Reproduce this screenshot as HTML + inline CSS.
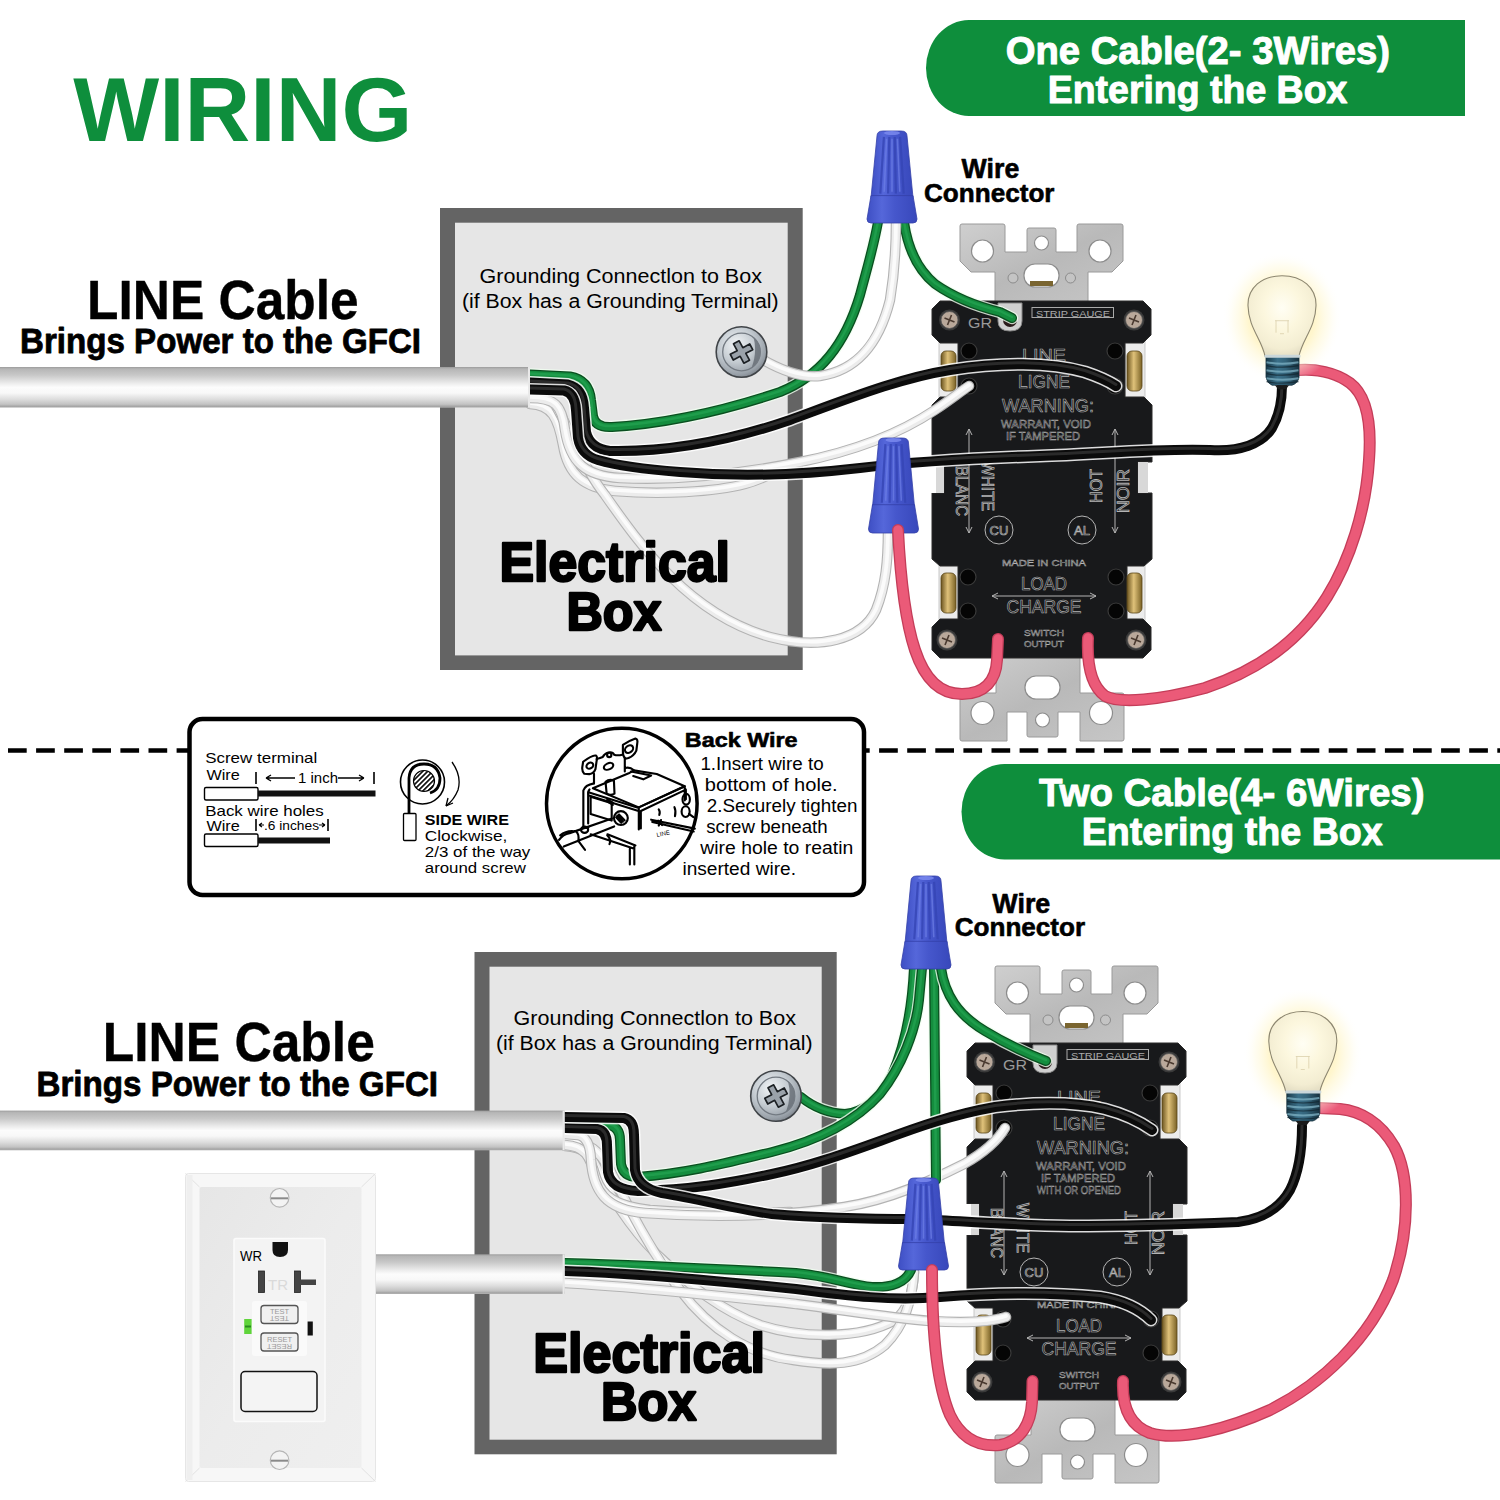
<!DOCTYPE html><html><head><meta charset="utf-8"><title>Wiring</title><style>html,body{margin:0;padding:0;background:#fff;width:1500px;height:1500px;overflow:hidden}svg{display:block}text{font-family:"Liberation Sans",sans-serif}</style></head><body>
<svg width="1500" height="1500" viewBox="0 0 1500 1500">

<defs>
<linearGradient id="cable" x1="0" y1="0" x2="0" y2="1">
 <stop offset="0" stop-color="#9c9c9c"/><stop offset="0.05" stop-color="#b6b6b6"/><stop offset="0.2" stop-color="#c8c8c8"/>
 <stop offset="0.4" stop-color="#ececec"/><stop offset="0.5" stop-color="#fcfcfc"/><stop offset="0.64" stop-color="#f8f8f8"/>
 <stop offset="0.8" stop-color="#dcdcdc"/><stop offset="0.92" stop-color="#c2c2c2"/><stop offset="0.97" stop-color="#a4a4a4"/><stop offset="1" stop-color="#b4b4b4"/>
</linearGradient>
<radialGradient id="glow" cx="0.5" cy="0.5" r="0.5">
 <stop offset="0" stop-color="#fff2b8" stop-opacity="1"/><stop offset="0.55" stop-color="#fff4c4" stop-opacity="0.85"/>
 <stop offset="0.8" stop-color="#fffae0" stop-opacity="0.45"/><stop offset="1" stop-color="#ffffff" stop-opacity="0"/>
</radialGradient>
<radialGradient id="glass" cx="0.5" cy="0.4" r="0.6">
 <stop offset="0" stop-color="#fffef4"/><stop offset="0.45" stop-color="#fcf7de"/><stop offset="0.85" stop-color="#f3edd2"/><stop offset="1" stop-color="#e6e0c6"/>
</radialGradient>
<linearGradient id="base" x1="0" y1="0" x2="1" y2="0">
 <stop offset="0" stop-color="#1a3a4a"/><stop offset="0.35" stop-color="#3b7089"/><stop offset="0.6" stop-color="#33637a"/><stop offset="1" stop-color="#173240"/>
</linearGradient>
<radialGradient id="screw" cx="0.4" cy="0.35" r="0.7">
 <stop offset="0" stop-color="#f2f5f7"/><stop offset="0.5" stop-color="#c4cbd1"/><stop offset="0.85" stop-color="#98a0a8"/><stop offset="1" stop-color="#7a8088"/>
</radialGradient>
<linearGradient id="metal" x1="0" y1="0" x2="1" y2="1">
 <stop offset="0" stop-color="#cfcfcf"/><stop offset="0.5" stop-color="#b9b9b9"/><stop offset="1" stop-color="#c6c6c6"/>
</linearGradient>
<linearGradient id="brass" x1="0" y1="0" x2="1" y2="0">
 <stop offset="0" stop-color="#6b5420"/><stop offset="0.45" stop-color="#e0c27a"/><stop offset="1" stop-color="#7a6226"/>
</linearGradient>
<linearGradient id="conn" x1="0" y1="0" x2="1" y2="0">
 <stop offset="0" stop-color="#3e4fc4"/><stop offset="0.3" stop-color="#5567da"/><stop offset="0.55" stop-color="#4657cc"/><stop offset="1" stop-color="#3848bb"/>
</linearGradient>
<linearGradient id="plate" x1="0" y1="0" x2="1" y2="0">
 <stop offset="0" stop-color="#e4e4e4"/><stop offset="0.12" stop-color="#f6f6f6"/><stop offset="0.88" stop-color="#f6f6f6"/><stop offset="1" stop-color="#dcdcdc"/>
</linearGradient>
<linearGradient id="plateface" x1="0" y1="0" x2="1" y2="1">
 <stop offset="0" stop-color="#e6e6e6"/><stop offset="0.5" stop-color="#ececec"/><stop offset="1" stop-color="#efefef"/>
</linearGradient>
</defs>

<rect width="1500" height="1500" fill="#fff"/>
<text x="73.30" y="141.4" font-size="90.5" font-weight="bold" fill="#0e8e3c" textLength="338.95" lengthAdjust="spacingAndGlyphs">WIRING</text>
<path d="M969 20 L1465 20 L1465 116 L969 116 A43 48.0 0 0 1 969 20 Z" fill="#0e8e3c"/>
<text x="1005.73" y="63.7" font-size="39.5" font-weight="bold" fill="#fff" stroke="#fff" stroke-width="1" stroke-linejoin="round" textLength="384.19" lengthAdjust="spacingAndGlyphs">One Cable(2- 3Wires)</text>
<text x="1047.74" y="102.6" font-size="38.3" font-weight="bold" fill="#fff" stroke="#fff" stroke-width="1" stroke-linejoin="round" textLength="299.65" lengthAdjust="spacingAndGlyphs">Entering the Box</text>
<path d="M1004.5 764 L1500 764 L1500 859.5 L1004.5 859.5 A43 47.75 0 0 1 1004.5 764 Z" fill="#0e8e3c"/>
<text x="1038.90" y="806.4" font-size="39.5" font-weight="bold" fill="#fff" stroke="#fff" stroke-width="1" stroke-linejoin="round" textLength="385.66" lengthAdjust="spacingAndGlyphs">Two Cable(4- 6Wires)</text>
<text x="1081.73" y="844.5" font-size="38.3" font-weight="bold" fill="#fff" stroke="#fff" stroke-width="1" stroke-linejoin="round" textLength="301.06" lengthAdjust="spacingAndGlyphs">Entering the Box</text>
<rect x="440" y="208" width="362.70000000000005" height="462" fill="#646464"/>
<rect x="455" y="222.7" width="332.70000000000005" height="432.7" fill="#e6e6e6"/>
<rect x="474.5" y="952" width="362.20000000000005" height="502.29999999999995" fill="#646464"/>
<rect x="489.5" y="966.7" width="332.20000000000005" height="472.99999999999994" fill="#e6e6e6"/>
<text x="479.62" y="282.7" font-size="20" fill="#000" textLength="282.31" lengthAdjust="spacingAndGlyphs">Grounding Connectlon to Box</text>
<text x="461.94" y="307.5" font-size="20" fill="#000" textLength="316.66" lengthAdjust="spacingAndGlyphs">(if Box has a Grounding Terminal)</text>
<text x="513.62" y="1025.2" font-size="20" fill="#000" textLength="282.31" lengthAdjust="spacingAndGlyphs">Grounding Connectlon to Box</text>
<text x="495.94" y="1050.0" font-size="20" fill="#000" textLength="316.66" lengthAdjust="spacingAndGlyphs">(if Box has a Grounding Terminal)</text>
<text x="87.02" y="318.7" font-size="55.5" font-weight="bold" fill="#000" stroke="#000" stroke-width="0.4" stroke-linejoin="round" textLength="271.62" lengthAdjust="spacingAndGlyphs">LINE Cable</text>
<text x="20.08" y="353.2" font-size="34.5" font-weight="bold" fill="#000" stroke="#000" stroke-width="0.8" stroke-linejoin="round" textLength="400.90" lengthAdjust="spacingAndGlyphs">Brings Power to the GFCI</text>
<text x="102.81" y="1061.1" font-size="55.5" font-weight="bold" fill="#000" stroke="#000" stroke-width="0.4" stroke-linejoin="round" textLength="272.03" lengthAdjust="spacingAndGlyphs">LINE Cable</text>
<text x="36.48" y="1095.7" font-size="34.5" font-weight="bold" fill="#000" stroke="#000" stroke-width="0.8" stroke-linejoin="round" textLength="401.61" lengthAdjust="spacingAndGlyphs">Brings Power to the GFCI</text>
<text x="961.60" y="177.6" font-size="27" font-weight="bold" fill="#000" stroke="#000" stroke-width="0.6" stroke-linejoin="round" textLength="57.68" lengthAdjust="spacingAndGlyphs">Wire</text>
<text x="924.02" y="201.6" font-size="26.5" font-weight="bold" fill="#000" stroke="#000" stroke-width="0.6" stroke-linejoin="round" textLength="130.49" lengthAdjust="spacingAndGlyphs">Connector</text>
<text x="992.30" y="912.5" font-size="27" font-weight="bold" fill="#000" stroke="#000" stroke-width="0.6" stroke-linejoin="round" textLength="57.98" lengthAdjust="spacingAndGlyphs">Wire</text>
<text x="954.72" y="936" font-size="26.5" font-weight="bold" fill="#000" stroke="#000" stroke-width="0.6" stroke-linejoin="round" textLength="130.39" lengthAdjust="spacingAndGlyphs">Connector</text>
<g transform="translate(932,301)"><path d="M30 -77 L71 -77 Q73 -77 73 -75 L73 -49 L95 -49 L95 -71 Q95 -73 97 -73 L122 -73 Q124 -73 124 -71 L124 -49 L145 -49 L145 -75 Q145 -77 147 -77 L189 -77 Q191 -77 191 -75 L191 -40 L180 -29 L156 -29 L156 2 L63 2 L63 -29 L39 -29 L28 -40 L28 -75 Q28 -77 30 -77 Z" fill="url(#metal)" stroke="#9a9a9a" stroke-width="1"/><circle cx="50.5" cy="-50" r="11" fill="#fff" stroke="#8c8c8c" stroke-width="1.2"/><circle cx="168" cy="-50" r="11" fill="#fff" stroke="#8c8c8c" stroke-width="1.2"/><circle cx="109.5" cy="-58" r="7" fill="#fff" stroke="#8c8c8c" stroke-width="1.2"/><rect x="92" y="-37" width="35" height="23" rx="11" fill="#fff" stroke="#8c8c8c" stroke-width="1.2"/><rect x="98" y="-20" width="23" height="5" fill="#7a6530"/><circle cx="81" cy="-23" r="5" fill="#c4c4c4" stroke="#8c8c8c" stroke-width="1"/><circle cx="138.5" cy="-23" r="5" fill="#c4c4c4" stroke="#8c8c8c" stroke-width="1"/><path d="M64 354 L148 354 L148 392 L190 392 Q192 392 192 394 L192 438 Q192 440 190 440 L148 440 L148 411 L126 411 L126 434 Q126 436 124 436 L97 436 Q95 436 95 434 L95 411 L75 411 L75 440 L30 440 Q28 440 28 438 L28 394 Q28 392 30 392 L64 392 Z" fill="url(#metal)" stroke="#9a9a9a" stroke-width="1"/><circle cx="50.5" cy="412" r="11.5" fill="#fff" stroke="#8c8c8c" stroke-width="1.2"/><circle cx="169" cy="412" r="11.5" fill="#fff" stroke="#8c8c8c" stroke-width="1.2"/><circle cx="110.5" cy="419" r="7" fill="#fff" stroke="#8c8c8c" stroke-width="1.2"/><rect x="93" y="375" width="35" height="23" rx="11" fill="#fff" stroke="#8c8c8c" stroke-width="1.2"/><rect x="7" y="40" width="20" height="58" fill="#ececec" stroke="#bdbdbd" stroke-width="0.8"/><rect x="193" y="40" width="20" height="58" fill="#ececec" stroke="#bdbdbd" stroke-width="0.8"/><rect x="7" y="263" width="20" height="58" fill="#ececec" stroke="#bdbdbd" stroke-width="0.8"/><rect x="193" y="263" width="20" height="58" fill="#ececec" stroke="#bdbdbd" stroke-width="0.8"/><path d="M8 0 L211 0 L219 8 L219 34 L211 42 L193 42 L193 96 L212 96 L220 104 L220 161 L206 161 L206 192 L220 192 L220 258 L212 265 L195 265 L195 318 L211 318 L219 326 L219 349 L211 357 L8 357 L0 349 L0 326 L8 318 L26 318 L26 265 L8 265 L0 258 L0 192 L12 192 L12 161 L0 161 L0 104 L8 96 L26 96 L26 42 L8 42 L0 34 L0 8 Z" fill="#18191b" stroke="#2a2a2a" stroke-width="1"/><rect x="4" y="161" width="8" height="31" fill="#d8d8d8"/><rect x="206" y="161" width="10" height="31" fill="#d8d8d8"/><rect x="0" y="161" width="4" height="31" fill="#fff"/><rect x="9" y="50" width="15" height="40" rx="5" fill="url(#brass)" stroke="#5a4618" stroke-width="0.8"/><rect x="195" y="50" width="15" height="40" rx="5" fill="url(#brass)" stroke="#5a4618" stroke-width="0.8"/><rect x="9" y="272" width="15" height="40" rx="5" fill="url(#brass)" stroke="#5a4618" stroke-width="0.8"/><rect x="195" y="272" width="15" height="40" rx="5" fill="url(#brass)" stroke="#5a4618" stroke-width="0.8"/><circle cx="17.5" cy="19" r="10.5" fill="#3a3a3a"/><circle cx="17.5" cy="19" r="8.5" fill="#b9a89a" stroke="#555" stroke-width="0.8"/><path d="M12.5 17 L22.5 21 M15.5 24 L19.5 14" stroke="#4a3a30" stroke-width="1.6"/><circle cx="202" cy="19" r="10.5" fill="#3a3a3a"/><circle cx="202" cy="19" r="8.5" fill="#b9a89a" stroke="#555" stroke-width="0.8"/><path d="M197 17 L207 21 M200 24 L204 14" stroke="#4a3a30" stroke-width="1.6"/><circle cx="15" cy="339" r="10.5" fill="#3a3a3a"/><circle cx="15" cy="339" r="8.5" fill="#b9a89a" stroke="#555" stroke-width="0.8"/><path d="M10 337 L20 341 M13 344 L17 334" stroke="#4a3a30" stroke-width="1.6"/><circle cx="204" cy="339" r="10.5" fill="#3a3a3a"/><circle cx="204" cy="339" r="8.5" fill="#b9a89a" stroke="#555" stroke-width="0.8"/><path d="M199 337 L209 341 M202 344 L206 334" stroke="#4a3a30" stroke-width="1.6"/><circle cx="37" cy="50" r="8" fill="#050505" stroke="#3a3a3a" stroke-width="1.2"/><circle cx="37" cy="85" r="8" fill="#050505" stroke="#3a3a3a" stroke-width="1.2"/><circle cx="183" cy="50" r="8" fill="#050505" stroke="#3a3a3a" stroke-width="1.2"/><circle cx="183" cy="85" r="8" fill="#050505" stroke="#3a3a3a" stroke-width="1.2"/><circle cx="36" cy="276" r="8" fill="#050505" stroke="#3a3a3a" stroke-width="1.2"/><circle cx="36" cy="310" r="8" fill="#050505" stroke="#3a3a3a" stroke-width="1.2"/><circle cx="184" cy="276" r="8" fill="#050505" stroke="#3a3a3a" stroke-width="1.2"/><circle cx="184" cy="310" r="8" fill="#050505" stroke="#3a3a3a" stroke-width="1.2"/><path d="M66 2 L90 2 L90 20 Q90 30 78 30 Q66 30 66 20 Z" fill="#d0d0d0" stroke="#888" stroke-width="1"/><circle cx="78" cy="19" r="7" fill="#2a1a1a"/><text x="36" y="27" font-size="15" fill="#9a9a9a" textLength="24" lengthAdjust="spacingAndGlyphs">GR</text><rect x="100" y="6.5" width="81.5" height="10" fill="none" stroke="#aaa" stroke-width="1"/><text x="104" y="15.5" font-size="9" fill="#aaa" textLength="74" lengthAdjust="spacingAndGlyphs">STRIP GAUGE</text><text x="112" y="59.5" font-size="17" fill="none" stroke="#b4b4b4" stroke-width="0.6" text-anchor="middle" textLength="44" lengthAdjust="spacingAndGlyphs">LINE</text><text x="112" y="86.5" font-size="18" fill="none" stroke="#b4b4b4" stroke-width="0.6" text-anchor="middle" textLength="52" lengthAdjust="spacingAndGlyphs">LIGNE</text><text x="116" y="110.5" font-size="18" fill="none" stroke="#b4b4b4" stroke-width="0.6" text-anchor="middle" textLength="92" lengthAdjust="spacingAndGlyphs">WARNING:</text><text x="114" y="127" font-size="10.5" fill="none" stroke="#b4b4b4" stroke-width="0.45" text-anchor="middle" textLength="90" lengthAdjust="spacingAndGlyphs">WARRANT, VOID</text><text x="111" y="139" font-size="10.5" fill="none" stroke="#b4b4b4" stroke-width="0.45" text-anchor="middle" textLength="74" lengthAdjust="spacingAndGlyphs">IF TAMPERED</text><text x="112" y="264.7" font-size="9" fill="none" stroke="#b4b4b4" stroke-width="0.45" text-anchor="middle" textLength="84" lengthAdjust="spacingAndGlyphs">MADE IN CHINA</text><text x="112" y="289" font-size="18" fill="none" stroke="#b4b4b4" stroke-width="0.6" text-anchor="middle" textLength="46" lengthAdjust="spacingAndGlyphs">LOAD</text><text x="112" y="311.8" font-size="18" fill="none" stroke="#b4b4b4" stroke-width="0.6" text-anchor="middle" textLength="75" lengthAdjust="spacingAndGlyphs">CHARGE</text><text x="112" y="335" font-size="9" fill="none" stroke="#b4b4b4" stroke-width="0.45" text-anchor="middle" textLength="40" lengthAdjust="spacingAndGlyphs">SWITCH</text><text x="112" y="346" font-size="9" fill="none" stroke="#b4b4b4" stroke-width="0.45" text-anchor="middle" textLength="40" lengthAdjust="spacingAndGlyphs">OUTPUT</text><path d="M60 295 H164 M60 295 l6 -3 M60 295 l6 3 M164 295 l-6 -3 M164 295 l-6 3" stroke="#b4b4b4" stroke-width="1" fill="none"/><path d="M37 128 V232 M34 134 l3 -6 l3 6 M34 226 l3 6 l3 -6 M183 128 V232 M180 134 l3 -6 l3 6 M180 226 l3 6 l3 -6" stroke="#b4b4b4" stroke-width="1" fill="none"/><circle cx="67" cy="229" r="14" fill="none" stroke="#b4b4b4" stroke-width="1"/><circle cx="150" cy="229" r="14" fill="none" stroke="#b4b4b4" stroke-width="1"/><text x="67" y="234" font-size="13" fill="none" stroke="#b4b4b4" stroke-width="0.7" text-anchor="middle">CU</text><text x="150" y="234" font-size="13" fill="none" stroke="#b4b4b4" stroke-width="0.7" text-anchor="middle">AL</text><text x="0" y="0" font-size="16" fill="none" stroke="#b4b4b4" stroke-width="0.8" text-anchor="middle" textLength="50" lengthAdjust="spacingAndGlyphs" transform="translate(50,185) rotate(90)">WHITE</text><text x="0" y="0" font-size="16" fill="none" stroke="#b4b4b4" stroke-width="0.8" text-anchor="middle" textLength="50" lengthAdjust="spacingAndGlyphs" transform="translate(24,190) rotate(90)">BLANC</text><text x="0" y="0" font-size="16" fill="none" stroke="#b4b4b4" stroke-width="0.8" text-anchor="middle" textLength="34" lengthAdjust="spacingAndGlyphs" transform="translate(170,185) rotate(-90)">HOT</text><text x="0" y="0" font-size="16" fill="none" stroke="#b4b4b4" stroke-width="0.8" text-anchor="middle" textLength="44" lengthAdjust="spacingAndGlyphs" transform="translate(197,190) rotate(-90)">NOIR</text></g>
<g transform="translate(967,1043)"><path d="M30 -77 L71 -77 Q73 -77 73 -75 L73 -49 L95 -49 L95 -71 Q95 -73 97 -73 L122 -73 Q124 -73 124 -71 L124 -49 L145 -49 L145 -75 Q145 -77 147 -77 L189 -77 Q191 -77 191 -75 L191 -40 L180 -29 L156 -29 L156 2 L63 2 L63 -29 L39 -29 L28 -40 L28 -75 Q28 -77 30 -77 Z" fill="url(#metal)" stroke="#9a9a9a" stroke-width="1"/><circle cx="50.5" cy="-50" r="11" fill="#fff" stroke="#8c8c8c" stroke-width="1.2"/><circle cx="168" cy="-50" r="11" fill="#fff" stroke="#8c8c8c" stroke-width="1.2"/><circle cx="109.5" cy="-58" r="7" fill="#fff" stroke="#8c8c8c" stroke-width="1.2"/><rect x="92" y="-37" width="35" height="23" rx="11" fill="#fff" stroke="#8c8c8c" stroke-width="1.2"/><rect x="98" y="-20" width="23" height="5" fill="#7a6530"/><circle cx="81" cy="-23" r="5" fill="#c4c4c4" stroke="#8c8c8c" stroke-width="1"/><circle cx="138.5" cy="-23" r="5" fill="#c4c4c4" stroke="#8c8c8c" stroke-width="1"/><path d="M64 354 L148 354 L148 392 L190 392 Q192 392 192 394 L192 438 Q192 440 190 440 L148 440 L148 411 L126 411 L126 434 Q126 436 124 436 L97 436 Q95 436 95 434 L95 411 L75 411 L75 440 L30 440 Q28 440 28 438 L28 394 Q28 392 30 392 L64 392 Z" fill="url(#metal)" stroke="#9a9a9a" stroke-width="1"/><circle cx="50.5" cy="412" r="11.5" fill="#fff" stroke="#8c8c8c" stroke-width="1.2"/><circle cx="169" cy="412" r="11.5" fill="#fff" stroke="#8c8c8c" stroke-width="1.2"/><circle cx="110.5" cy="419" r="7" fill="#fff" stroke="#8c8c8c" stroke-width="1.2"/><rect x="93" y="375" width="35" height="23" rx="11" fill="#fff" stroke="#8c8c8c" stroke-width="1.2"/><rect x="7" y="40" width="20" height="58" fill="#ececec" stroke="#bdbdbd" stroke-width="0.8"/><rect x="193" y="40" width="20" height="58" fill="#ececec" stroke="#bdbdbd" stroke-width="0.8"/><rect x="7" y="263" width="20" height="58" fill="#ececec" stroke="#bdbdbd" stroke-width="0.8"/><rect x="193" y="263" width="20" height="58" fill="#ececec" stroke="#bdbdbd" stroke-width="0.8"/><path d="M8 0 L211 0 L219 8 L219 34 L211 42 L193 42 L193 96 L212 96 L220 104 L220 161 L206 161 L206 192 L220 192 L220 258 L212 265 L195 265 L195 318 L211 318 L219 326 L219 349 L211 357 L8 357 L0 349 L0 326 L8 318 L26 318 L26 265 L8 265 L0 258 L0 192 L12 192 L12 161 L0 161 L0 104 L8 96 L26 96 L26 42 L8 42 L0 34 L0 8 Z" fill="#18191b" stroke="#2a2a2a" stroke-width="1"/><rect x="4" y="161" width="8" height="31" fill="#d8d8d8"/><rect x="206" y="161" width="10" height="31" fill="#d8d8d8"/><rect x="0" y="161" width="4" height="31" fill="#fff"/><rect x="9" y="50" width="15" height="40" rx="5" fill="url(#brass)" stroke="#5a4618" stroke-width="0.8"/><rect x="195" y="50" width="15" height="40" rx="5" fill="url(#brass)" stroke="#5a4618" stroke-width="0.8"/><rect x="9" y="272" width="15" height="40" rx="5" fill="url(#brass)" stroke="#5a4618" stroke-width="0.8"/><rect x="195" y="272" width="15" height="40" rx="5" fill="url(#brass)" stroke="#5a4618" stroke-width="0.8"/><circle cx="17.5" cy="19" r="10.5" fill="#3a3a3a"/><circle cx="17.5" cy="19" r="8.5" fill="#b9a89a" stroke="#555" stroke-width="0.8"/><path d="M12.5 17 L22.5 21 M15.5 24 L19.5 14" stroke="#4a3a30" stroke-width="1.6"/><circle cx="202" cy="19" r="10.5" fill="#3a3a3a"/><circle cx="202" cy="19" r="8.5" fill="#b9a89a" stroke="#555" stroke-width="0.8"/><path d="M197 17 L207 21 M200 24 L204 14" stroke="#4a3a30" stroke-width="1.6"/><circle cx="15" cy="339" r="10.5" fill="#3a3a3a"/><circle cx="15" cy="339" r="8.5" fill="#b9a89a" stroke="#555" stroke-width="0.8"/><path d="M10 337 L20 341 M13 344 L17 334" stroke="#4a3a30" stroke-width="1.6"/><circle cx="204" cy="339" r="10.5" fill="#3a3a3a"/><circle cx="204" cy="339" r="8.5" fill="#b9a89a" stroke="#555" stroke-width="0.8"/><path d="M199 337 L209 341 M202 344 L206 334" stroke="#4a3a30" stroke-width="1.6"/><circle cx="37" cy="50" r="8" fill="#050505" stroke="#3a3a3a" stroke-width="1.2"/><circle cx="37" cy="85" r="8" fill="#050505" stroke="#3a3a3a" stroke-width="1.2"/><circle cx="183" cy="50" r="8" fill="#050505" stroke="#3a3a3a" stroke-width="1.2"/><circle cx="183" cy="85" r="8" fill="#050505" stroke="#3a3a3a" stroke-width="1.2"/><circle cx="36" cy="276" r="8" fill="#050505" stroke="#3a3a3a" stroke-width="1.2"/><circle cx="36" cy="310" r="8" fill="#050505" stroke="#3a3a3a" stroke-width="1.2"/><circle cx="184" cy="276" r="8" fill="#050505" stroke="#3a3a3a" stroke-width="1.2"/><circle cx="184" cy="310" r="8" fill="#050505" stroke="#3a3a3a" stroke-width="1.2"/><path d="M66 2 L90 2 L90 20 Q90 30 78 30 Q66 30 66 20 Z" fill="#d0d0d0" stroke="#888" stroke-width="1"/><circle cx="78" cy="19" r="7" fill="#2a1a1a"/><text x="36" y="27" font-size="15" fill="#9a9a9a" textLength="24" lengthAdjust="spacingAndGlyphs">GR</text><rect x="100" y="6.5" width="81.5" height="10" fill="none" stroke="#aaa" stroke-width="1"/><text x="104" y="15.5" font-size="9" fill="#aaa" textLength="74" lengthAdjust="spacingAndGlyphs">STRIP GAUGE</text><text x="112" y="59.5" font-size="17" fill="none" stroke="#b4b4b4" stroke-width="0.6" text-anchor="middle" textLength="44" lengthAdjust="spacingAndGlyphs">LINE</text><text x="112" y="86.5" font-size="18" fill="none" stroke="#b4b4b4" stroke-width="0.6" text-anchor="middle" textLength="52" lengthAdjust="spacingAndGlyphs">LIGNE</text><text x="116" y="110.5" font-size="18" fill="none" stroke="#b4b4b4" stroke-width="0.6" text-anchor="middle" textLength="92" lengthAdjust="spacingAndGlyphs">WARNING:</text><text x="114" y="127" font-size="10.5" fill="none" stroke="#b4b4b4" stroke-width="0.45" text-anchor="middle" textLength="90" lengthAdjust="spacingAndGlyphs">WARRANT, VOID</text><text x="111" y="139" font-size="10.5" fill="none" stroke="#b4b4b4" stroke-width="0.45" text-anchor="middle" textLength="74" lengthAdjust="spacingAndGlyphs">IF TAMPERED</text><text x="112" y="151" font-size="10.5" fill="none" stroke="#b4b4b4" stroke-width="0.45" text-anchor="middle" textLength="84" lengthAdjust="spacingAndGlyphs">WITH OR OPENED</text><text x="112" y="264.7" font-size="9" fill="none" stroke="#b4b4b4" stroke-width="0.45" text-anchor="middle" textLength="84" lengthAdjust="spacingAndGlyphs">MADE IN CHINA</text><text x="112" y="289" font-size="18" fill="none" stroke="#b4b4b4" stroke-width="0.6" text-anchor="middle" textLength="46" lengthAdjust="spacingAndGlyphs">LOAD</text><text x="112" y="311.8" font-size="18" fill="none" stroke="#b4b4b4" stroke-width="0.6" text-anchor="middle" textLength="75" lengthAdjust="spacingAndGlyphs">CHARGE</text><text x="112" y="335" font-size="9" fill="none" stroke="#b4b4b4" stroke-width="0.45" text-anchor="middle" textLength="40" lengthAdjust="spacingAndGlyphs">SWITCH</text><text x="112" y="346" font-size="9" fill="none" stroke="#b4b4b4" stroke-width="0.45" text-anchor="middle" textLength="40" lengthAdjust="spacingAndGlyphs">OUTPUT</text><path d="M60 295 H164 M60 295 l6 -3 M60 295 l6 3 M164 295 l-6 -3 M164 295 l-6 3" stroke="#b4b4b4" stroke-width="1" fill="none"/><path d="M37 128 V232 M34 134 l3 -6 l3 6 M34 226 l3 6 l3 -6 M183 128 V232 M180 134 l3 -6 l3 6 M180 226 l3 6 l3 -6" stroke="#b4b4b4" stroke-width="1" fill="none"/><circle cx="67" cy="229" r="14" fill="none" stroke="#b4b4b4" stroke-width="1"/><circle cx="150" cy="229" r="14" fill="none" stroke="#b4b4b4" stroke-width="1"/><text x="67" y="234" font-size="13" fill="none" stroke="#b4b4b4" stroke-width="0.7" text-anchor="middle">CU</text><text x="150" y="234" font-size="13" fill="none" stroke="#b4b4b4" stroke-width="0.7" text-anchor="middle">AL</text><text x="0" y="0" font-size="16" fill="none" stroke="#b4b4b4" stroke-width="0.8" text-anchor="middle" textLength="50" lengthAdjust="spacingAndGlyphs" transform="translate(50,185) rotate(90)">WHITE</text><text x="0" y="0" font-size="16" fill="none" stroke="#b4b4b4" stroke-width="0.8" text-anchor="middle" textLength="50" lengthAdjust="spacingAndGlyphs" transform="translate(24,190) rotate(90)">BLANC</text><text x="0" y="0" font-size="16" fill="none" stroke="#b4b4b4" stroke-width="0.8" text-anchor="middle" textLength="34" lengthAdjust="spacingAndGlyphs" transform="translate(170,185) rotate(-90)">HOT</text><text x="0" y="0" font-size="16" fill="none" stroke="#b4b4b4" stroke-width="0.8" text-anchor="middle" textLength="44" lengthAdjust="spacingAndGlyphs" transform="translate(197,190) rotate(-90)">NOIR</text></g>
<path d="M530 404 C552 405 558 418 563 445 C568 475 584 488 615 491 C660 495 715 492 745 484 C760 480 770 474 780 470" fill="none" stroke="#b3b3b3" stroke-width="10.5" stroke-linecap="round" stroke-linejoin="round"/>
<path d="M530 404 C552 405 558 418 563 445 C568 475 584 488 615 491 C660 495 715 492 745 484 C760 480 770 474 780 470" fill="none" stroke="#ececec" stroke-width="8.3" stroke-linecap="round" stroke-linejoin="round"/>
<path d="M530 404 C552 405 558 418 563 445 C568 475 584 488 615 491 C660 495 715 492 745 484 C760 480 770 474 780 470" fill="none" stroke="#fbfbfb" stroke-width="3.675" stroke-linecap="round" stroke-linejoin="round" transform="translate(0,-1)"/>
<path d="M556 406 C575 440 585 470 605 495 C640 545 690 615 770 637 C820 650 862 640 876 610 C886 585 888 560 888 530" fill="none" stroke="#b3b3b3" stroke-width="10.5" stroke-linecap="round" stroke-linejoin="round"/>
<path d="M556 406 C575 440 585 470 605 495 C640 545 690 615 770 637 C820 650 862 640 876 610 C886 585 888 560 888 530" fill="none" stroke="#ececec" stroke-width="8.3" stroke-linecap="round" stroke-linejoin="round"/>
<path d="M556 406 C575 440 585 470 605 495 C640 545 690 615 770 637 C820 650 862 640 876 610 C886 585 888 560 888 530" fill="none" stroke="#fbfbfb" stroke-width="3.675" stroke-linecap="round" stroke-linejoin="round" transform="translate(0,-1)"/>
<path d="M530 398 C555 398 562 405 565 430 C570 462 585 476 620 478 C680 481 740 474 800 462 C860 450 905 430 935 410 C950 400 960 392 969 386" fill="none" stroke="#b3b3b3" stroke-width="10.5" stroke-linecap="round" stroke-linejoin="round"/>
<path d="M530 398 C555 398 562 405 565 430 C570 462 585 476 620 478 C680 481 740 474 800 462 C860 450 905 430 935 410 C950 400 960 392 969 386" fill="none" stroke="#ececec" stroke-width="8.3" stroke-linecap="round" stroke-linejoin="round"/>
<path d="M530 398 C555 398 562 405 565 430 C570 462 585 476 620 478 C680 481 740 474 800 462 C860 450 905 430 935 410 C950 400 960 392 969 386" fill="none" stroke="#fbfbfb" stroke-width="3.675" stroke-linecap="round" stroke-linejoin="round" transform="translate(0,-1)"/>
<path d="M530 374.5 L570 376.5 Q589 380 591 400 L593 416 Q595 428 612 427 C660 424 720 412 780 392 C820 376 845 345 860 295 C868 265 874 245 878 222" fill="none" stroke="#f0fff0" stroke-opacity="0.8" stroke-width="12.5" stroke-linecap="round" stroke-linejoin="round"/>
<path d="M530 374.5 L570 376.5 Q589 380 591 400 L593 416 Q595 428 612 427 C660 424 720 412 780 392 C820 376 845 345 860 295 C868 265 874 245 878 222" fill="none" stroke="#0a4f20" stroke-width="10" stroke-linecap="round" stroke-linejoin="round"/>
<path d="M530 374.5 L570 376.5 Q589 380 591 400 L593 416 Q595 428 612 427 C660 424 720 412 780 392 C820 376 845 345 860 295 C868 265 874 245 878 222" fill="none" stroke="#148d3e" stroke-width="7.4" stroke-linecap="round" stroke-linejoin="round"/>
<path d="M530 374.5 L570 376.5 Q589 380 591 400 L593 416 Q595 428 612 427 C660 424 720 412 780 392 C820 376 845 345 860 295 C868 265 874 245 878 222" fill="none" stroke="#1f9d4c" stroke-width="2.5" stroke-linecap="round" stroke-linejoin="round" transform="translate(0,-1)"/>
<path d="M904 222 C908 250 918 270 935 284 C955 298 980 307 1000 312 L1012 318" fill="none" stroke="#f0fff0" stroke-opacity="0.8" stroke-width="12.5" stroke-linecap="round" stroke-linejoin="round"/>
<path d="M904 222 C908 250 918 270 935 284 C955 298 980 307 1000 312 L1012 318" fill="none" stroke="#0a4f20" stroke-width="10" stroke-linecap="round" stroke-linejoin="round"/>
<path d="M904 222 C908 250 918 270 935 284 C955 298 980 307 1000 312 L1012 318" fill="none" stroke="#148d3e" stroke-width="7.4" stroke-linecap="round" stroke-linejoin="round"/>
<path d="M904 222 C908 250 918 270 935 284 C955 298 980 307 1000 312 L1012 318" fill="none" stroke="#1f9d4c" stroke-width="2.5" stroke-linecap="round" stroke-linejoin="round" transform="translate(0,-1)"/>
<path d="M760 358 C780 370 800 378 820 376 C860 370 880 340 890 300 C895 270 896 245 896 222" fill="none" stroke="#b3b3b3" stroke-width="10.5" stroke-linecap="round" stroke-linejoin="round"/>
<path d="M760 358 C780 370 800 378 820 376 C860 370 880 340 890 300 C895 270 896 245 896 222" fill="none" stroke="#ececec" stroke-width="8.3" stroke-linecap="round" stroke-linejoin="round"/>
<path d="M760 358 C780 370 800 378 820 376 C860 370 880 340 890 300 C895 270 896 245 896 222" fill="none" stroke="#fbfbfb" stroke-width="3.675" stroke-linecap="round" stroke-linejoin="round" transform="translate(0,-1)"/>
<path d="M530 382.5 L568 384.5 Q583 388 584 408 L586 432 Q590 449 610 451 C660 452 720 444 790 420 C850 398 900 378 950 370 C1000 362 1050 362 1085 372 C1100 377 1110 382 1116 386" fill="none" stroke="#ffffff" stroke-opacity="0.85" stroke-width="13" stroke-linecap="round" stroke-linejoin="round"/>
<path d="M530 382.5 L568 384.5 Q583 388 584 408 L586 432 Q590 449 610 451 C660 452 720 444 790 420 C850 398 900 378 950 370 C1000 362 1050 362 1085 372 C1100 377 1110 382 1116 386" fill="none" stroke="#0b0b0b" stroke-width="10" stroke-linecap="round" stroke-linejoin="round"/>
<path d="M530 382.5 L568 384.5 Q583 388 584 408 L586 432 Q590 449 610 451 C660 452 720 444 790 420 C850 398 900 378 950 370 C1000 362 1050 362 1085 372 C1100 377 1110 382 1116 386" fill="none" stroke="#2a2a2a" stroke-width="3.0" stroke-linecap="round" stroke-linejoin="round" transform="translate(0,-1.5)"/>
<path d="M530 389.5 L564 390.5 Q575 393 576 410 L578 438 Q581 455 598 460 C615 465 640 469 680 472 C740 477 800 475 860 468 C920 461 980 458 1040 456 C1100 454 1160 448 1210 450 C1240 452 1262 444 1272 428 C1280 414 1282 398 1282 386" fill="none" stroke="#ffffff" stroke-opacity="0.85" stroke-width="13" stroke-linecap="round" stroke-linejoin="round"/>
<path d="M530 389.5 L564 390.5 Q575 393 576 410 L578 438 Q581 455 598 460 C615 465 640 469 680 472 C740 477 800 475 860 468 C920 461 980 458 1040 456 C1100 454 1160 448 1210 450 C1240 452 1262 444 1272 428 C1280 414 1282 398 1282 386" fill="none" stroke="#0b0b0b" stroke-width="10" stroke-linecap="round" stroke-linejoin="round"/>
<path d="M530 389.5 L564 390.5 Q575 393 576 410 L578 438 Q581 455 598 460 C615 465 640 469 680 472 C740 477 800 475 860 468 C920 461 980 458 1040 456 C1100 454 1160 448 1210 450 C1240 452 1262 444 1272 428 C1280 414 1282 398 1282 386" fill="none" stroke="#2a2a2a" stroke-width="3.0" stroke-linecap="round" stroke-linejoin="round" transform="translate(0,-1.5)"/>
<path d="M565 1146 C585 1147 592 1156 600 1175 C615 1205 640 1240 665 1262 C690 1285 720 1310 760 1325 C800 1338 860 1340 895 1320 C908 1310 913 1292 914 1272" fill="none" stroke="#b3b3b3" stroke-width="10.5" stroke-linecap="round" stroke-linejoin="round"/>
<path d="M565 1146 C585 1147 592 1156 600 1175 C615 1205 640 1240 665 1262 C690 1285 720 1310 760 1325 C800 1338 860 1340 895 1320 C908 1310 913 1292 914 1272" fill="none" stroke="#ececec" stroke-width="8.3" stroke-linecap="round" stroke-linejoin="round"/>
<path d="M565 1146 C585 1147 592 1156 600 1175 C615 1205 640 1240 665 1262 C690 1285 720 1310 760 1325 C800 1338 860 1340 895 1320 C908 1310 913 1292 914 1272" fill="none" stroke="#fbfbfb" stroke-width="3.675" stroke-linecap="round" stroke-linejoin="round" transform="translate(0,-1)"/>
<path d="M565 1140 C590 1141 600 1152 610 1170 C630 1210 650 1250 680 1290 C710 1330 750 1355 793 1360 C830 1366 860 1366 885 1345 C905 1325 912 1300 914 1272" fill="none" stroke="#b3b3b3" stroke-width="10.5" stroke-linecap="round" stroke-linejoin="round"/>
<path d="M565 1140 C590 1141 600 1152 610 1170 C630 1210 650 1250 680 1290 C710 1330 750 1355 793 1360 C830 1366 860 1366 885 1345 C905 1325 912 1300 914 1272" fill="none" stroke="#ececec" stroke-width="8.3" stroke-linecap="round" stroke-linejoin="round"/>
<path d="M565 1140 C590 1141 600 1152 610 1170 C630 1210 650 1250 680 1290 C710 1330 750 1355 793 1360 C830 1366 860 1366 885 1345 C905 1325 912 1300 914 1272" fill="none" stroke="#fbfbfb" stroke-width="3.675" stroke-linecap="round" stroke-linejoin="round" transform="translate(0,-1)"/>
<path d="M565 1145 C585 1146 590 1156 596 1178 C602 1196 615 1206 650 1210 C700 1214 740 1214 790 1212" fill="none" stroke="#b3b3b3" stroke-width="10.5" stroke-linecap="round" stroke-linejoin="round"/>
<path d="M565 1145 C585 1146 590 1156 596 1178 C602 1196 615 1206 650 1210 C700 1214 740 1214 790 1212" fill="none" stroke="#ececec" stroke-width="8.3" stroke-linecap="round" stroke-linejoin="round"/>
<path d="M565 1145 C585 1146 590 1156 596 1178 C602 1196 615 1206 650 1210 C700 1214 740 1214 790 1212" fill="none" stroke="#fbfbfb" stroke-width="3.675" stroke-linecap="round" stroke-linejoin="round" transform="translate(0,-1)"/>
<path d="M565 1134 L578 1135 Q590 1137 591 1160 C593 1190 605 1210 645 1213 C700 1217 770 1218 844 1207 C890 1200 930 1181 964 1164 C985 1152 998 1140 1005 1128" fill="none" stroke="#b3b3b3" stroke-width="10.5" stroke-linecap="round" stroke-linejoin="round"/>
<path d="M565 1134 L578 1135 Q590 1137 591 1160 C593 1190 605 1210 645 1213 C700 1217 770 1218 844 1207 C890 1200 930 1181 964 1164 C985 1152 998 1140 1005 1128" fill="none" stroke="#ececec" stroke-width="8.3" stroke-linecap="round" stroke-linejoin="round"/>
<path d="M565 1134 L578 1135 Q590 1137 591 1160 C593 1190 605 1210 645 1213 C700 1217 770 1218 844 1207 C890 1200 930 1181 964 1164 C985 1152 998 1140 1005 1128" fill="none" stroke="#fbfbfb" stroke-width="3.675" stroke-linecap="round" stroke-linejoin="round" transform="translate(0,-1)"/>
<path d="M565 1283 C640 1287 720 1296 796 1304 C850 1311 892 1318 930 1321 C960 1323 990 1322 1006 1317" fill="none" stroke="#b3b3b3" stroke-width="10.5" stroke-linecap="round" stroke-linejoin="round"/>
<path d="M565 1283 C640 1287 720 1296 796 1304 C850 1311 892 1318 930 1321 C960 1323 990 1322 1006 1317" fill="none" stroke="#ececec" stroke-width="8.3" stroke-linecap="round" stroke-linejoin="round"/>
<path d="M565 1283 C640 1287 720 1296 796 1304 C850 1311 892 1318 930 1321 C960 1323 990 1322 1006 1317" fill="none" stroke="#fbfbfb" stroke-width="3.675" stroke-linecap="round" stroke-linejoin="round" transform="translate(0,-1)"/>
<path d="M801 1097 C812 1106 825 1113 845 1114 C865 1112 880 1098 892 1075 C905 1045 912 1010 914 968" fill="none" stroke="#f0fff0" stroke-opacity="0.8" stroke-width="12.5" stroke-linecap="round" stroke-linejoin="round"/>
<path d="M801 1097 C812 1106 825 1113 845 1114 C865 1112 880 1098 892 1075 C905 1045 912 1010 914 968" fill="none" stroke="#0a4f20" stroke-width="10" stroke-linecap="round" stroke-linejoin="round"/>
<path d="M801 1097 C812 1106 825 1113 845 1114 C865 1112 880 1098 892 1075 C905 1045 912 1010 914 968" fill="none" stroke="#148d3e" stroke-width="7.4" stroke-linecap="round" stroke-linejoin="round"/>
<path d="M801 1097 C812 1106 825 1113 845 1114 C865 1112 880 1098 892 1075 C905 1045 912 1010 914 968" fill="none" stroke="#1f9d4c" stroke-width="2.5" stroke-linecap="round" stroke-linejoin="round" transform="translate(0,-1)"/>
<path d="M565 1123 L609 1125 Q620 1127 620 1140 L621 1164 Q623 1177 638 1177 C690 1173 730 1162 772 1152 C820 1140 856 1121 880 1094 C902 1066 916 1030 919 1000 L922 968" fill="none" stroke="#f0fff0" stroke-opacity="0.8" stroke-width="12.5" stroke-linecap="round" stroke-linejoin="round"/>
<path d="M565 1123 L609 1125 Q620 1127 620 1140 L621 1164 Q623 1177 638 1177 C690 1173 730 1162 772 1152 C820 1140 856 1121 880 1094 C902 1066 916 1030 919 1000 L922 968" fill="none" stroke="#0a4f20" stroke-width="10" stroke-linecap="round" stroke-linejoin="round"/>
<path d="M565 1123 L609 1125 Q620 1127 620 1140 L621 1164 Q623 1177 638 1177 C690 1173 730 1162 772 1152 C820 1140 856 1121 880 1094 C902 1066 916 1030 919 1000 L922 968" fill="none" stroke="#148d3e" stroke-width="7.4" stroke-linecap="round" stroke-linejoin="round"/>
<path d="M565 1123 L609 1125 Q620 1127 620 1140 L621 1164 Q623 1177 638 1177 C690 1173 730 1162 772 1152 C820 1140 856 1121 880 1094 C902 1066 916 1030 919 1000 L922 968" fill="none" stroke="#1f9d4c" stroke-width="2.5" stroke-linecap="round" stroke-linejoin="round" transform="translate(0,-1)"/>
<path d="M934 968 L936 1180" fill="none" stroke="#f0fff0" stroke-opacity="0.8" stroke-width="12.5" stroke-linecap="round" stroke-linejoin="round"/>
<path d="M934 968 L936 1180" fill="none" stroke="#0a4f20" stroke-width="10" stroke-linecap="round" stroke-linejoin="round"/>
<path d="M934 968 L936 1180" fill="none" stroke="#148d3e" stroke-width="7.4" stroke-linecap="round" stroke-linejoin="round"/>
<path d="M934 968 L936 1180" fill="none" stroke="#1f9d4c" stroke-width="2.5" stroke-linecap="round" stroke-linejoin="round" transform="translate(0,-1)"/>
<path d="M941 968 C945 995 958 1015 985 1031 C1008 1045 1028 1054 1046 1061" fill="none" stroke="#f0fff0" stroke-opacity="0.8" stroke-width="12.5" stroke-linecap="round" stroke-linejoin="round"/>
<path d="M941 968 C945 995 958 1015 985 1031 C1008 1045 1028 1054 1046 1061" fill="none" stroke="#0a4f20" stroke-width="10" stroke-linecap="round" stroke-linejoin="round"/>
<path d="M941 968 C945 995 958 1015 985 1031 C1008 1045 1028 1054 1046 1061" fill="none" stroke="#148d3e" stroke-width="7.4" stroke-linecap="round" stroke-linejoin="round"/>
<path d="M941 968 C945 995 958 1015 985 1031 C1008 1045 1028 1054 1046 1061" fill="none" stroke="#1f9d4c" stroke-width="2.5" stroke-linecap="round" stroke-linejoin="round" transform="translate(0,-1)"/>
<path d="M565 1263 C640 1265 720 1269 796 1273 C830 1276 850 1285 872 1287 C892 1288 906 1282 911 1270" fill="none" stroke="#f0fff0" stroke-opacity="0.8" stroke-width="12.5" stroke-linecap="round" stroke-linejoin="round"/>
<path d="M565 1263 C640 1265 720 1269 796 1273 C830 1276 850 1285 872 1287 C892 1288 906 1282 911 1270" fill="none" stroke="#0a4f20" stroke-width="10" stroke-linecap="round" stroke-linejoin="round"/>
<path d="M565 1263 C640 1265 720 1269 796 1273 C830 1276 850 1285 872 1287 C892 1288 906 1282 911 1270" fill="none" stroke="#148d3e" stroke-width="7.4" stroke-linecap="round" stroke-linejoin="round"/>
<path d="M565 1263 C640 1265 720 1269 796 1273 C830 1276 850 1285 872 1287 C892 1288 906 1282 911 1270" fill="none" stroke="#1f9d4c" stroke-width="2.5" stroke-linecap="round" stroke-linejoin="round" transform="translate(0,-1)"/>
<path d="M565 1128 L597 1129 Q607 1131 607 1145 L608 1172 Q611 1190 638 1191 C690 1190 730 1183 772 1174 C810 1166 844 1154 880 1141 C920 1126 955 1114 995 1107 C1035 1102 1075 1102 1105 1109 C1128 1115 1142 1123 1152 1130" fill="none" stroke="#ffffff" stroke-opacity="0.85" stroke-width="13" stroke-linecap="round" stroke-linejoin="round"/>
<path d="M565 1128 L597 1129 Q607 1131 607 1145 L608 1172 Q611 1190 638 1191 C690 1190 730 1183 772 1174 C810 1166 844 1154 880 1141 C920 1126 955 1114 995 1107 C1035 1102 1075 1102 1105 1109 C1128 1115 1142 1123 1152 1130" fill="none" stroke="#0b0b0b" stroke-width="10" stroke-linecap="round" stroke-linejoin="round"/>
<path d="M565 1128 L597 1129 Q607 1131 607 1145 L608 1172 Q611 1190 638 1191 C690 1190 730 1183 772 1174 C810 1166 844 1154 880 1141 C920 1126 955 1114 995 1107 C1035 1102 1075 1102 1105 1109 C1128 1115 1142 1123 1152 1130" fill="none" stroke="#2a2a2a" stroke-width="3.0" stroke-linecap="round" stroke-linejoin="round" transform="translate(0,-1.5)"/>
<path d="M565 1117 L624 1118 Q634 1120 634 1135 L635 1170 Q638 1188 662 1193 C700 1199 740 1210 772 1214 C820 1218 870 1219 916 1219 C960 1221 1010 1225 1070 1226 C1130 1226 1190 1224 1238 1222 C1262 1219 1280 1208 1290 1190 C1299 1172 1302 1150 1302 1126" fill="none" stroke="#ffffff" stroke-opacity="0.85" stroke-width="13" stroke-linecap="round" stroke-linejoin="round"/>
<path d="M565 1117 L624 1118 Q634 1120 634 1135 L635 1170 Q638 1188 662 1193 C700 1199 740 1210 772 1214 C820 1218 870 1219 916 1219 C960 1221 1010 1225 1070 1226 C1130 1226 1190 1224 1238 1222 C1262 1219 1280 1208 1290 1190 C1299 1172 1302 1150 1302 1126" fill="none" stroke="#0b0b0b" stroke-width="10" stroke-linecap="round" stroke-linejoin="round"/>
<path d="M565 1117 L624 1118 Q634 1120 634 1135 L635 1170 Q638 1188 662 1193 C700 1199 740 1210 772 1214 C820 1218 870 1219 916 1219 C960 1221 1010 1225 1070 1226 C1130 1226 1190 1224 1238 1222 C1262 1219 1280 1208 1290 1190 C1299 1172 1302 1150 1302 1126" fill="none" stroke="#2a2a2a" stroke-width="3.0" stroke-linecap="round" stroke-linejoin="round" transform="translate(0,-1.5)"/>
<path d="M565 1271 C630 1273 710 1280 796 1289 C850 1296 892 1301 940 1297 C990 1293 1050 1292 1100 1297 C1125 1301 1140 1309 1151 1320" fill="none" stroke="#ffffff" stroke-opacity="0.85" stroke-width="13" stroke-linecap="round" stroke-linejoin="round"/>
<path d="M565 1271 C630 1273 710 1280 796 1289 C850 1296 892 1301 940 1297 C990 1293 1050 1292 1100 1297 C1125 1301 1140 1309 1151 1320" fill="none" stroke="#0b0b0b" stroke-width="10" stroke-linecap="round" stroke-linejoin="round"/>
<path d="M565 1271 C630 1273 710 1280 796 1289 C850 1296 892 1301 940 1297 C990 1293 1050 1292 1100 1297 C1125 1301 1140 1309 1151 1320" fill="none" stroke="#2a2a2a" stroke-width="3.0" stroke-linecap="round" stroke-linejoin="round" transform="translate(0,-1.5)"/>
<circle cx="741.5" cy="352" r="25.3" fill="url(#screw)" stroke="#404448" stroke-width="1.6"/>
<path d="M753.5 337 A19 19 0 0 1 751.5 368 Q757.5 352 753.5 337 Z" fill="#5f666e" opacity="0.75"/>
<circle cx="741.5" cy="352" r="18.8" fill="none" stroke="#737a82" stroke-width="1.3"/>
<g transform="translate(741.5,352) rotate(-28)"><path d="M-3.2 -11 H3.2 V-3.2 H11 V3.2 H3.2 V11 H-3.2 V3.2 H-11 V-3.2 H-3.2 Z" fill="#9aa2aa" stroke="#1c2024" stroke-width="1.7" stroke-linejoin="round"/></g>
<circle cx="776" cy="1096" r="25.3" fill="url(#screw)" stroke="#404448" stroke-width="1.6"/>
<path d="M788 1081 A19 19 0 0 1 786 1112 Q792 1096 788 1081 Z" fill="#5f666e" opacity="0.75"/>
<circle cx="776" cy="1096" r="18.8" fill="none" stroke="#737a82" stroke-width="1.3"/>
<g transform="translate(776,1096) rotate(-28)"><path d="M-3.2 -11 H3.2 V-3.2 H11 V3.2 H3.2 V11 H-3.2 V3.2 H-11 V-3.2 H-3.2 Z" fill="#9aa2aa" stroke="#1c2024" stroke-width="1.7" stroke-linejoin="round"/></g>
<rect x="0" y="367" width="530" height="40.60000000000002" fill="url(#cable)"/>
<rect x="528" y="367" width="2" height="40.60000000000002" fill="#e9e9e9"/>
<rect x="0" y="1110.6" width="564.6" height="39.700000000000045" fill="url(#cable)"/>
<rect x="562.6" y="1110.6" width="2" height="39.700000000000045" fill="#e9e9e9"/>
<rect x="375" y="1254.3" width="189.60000000000002" height="39.700000000000045" fill="url(#cable)"/>
<rect x="562.6" y="1254.3" width="2" height="39.700000000000045" fill="#e9e9e9"/>
<text x="499.42" y="580.8" font-size="55" font-weight="bold" fill="#000" stroke="#000" stroke-width="2.4" stroke-linejoin="round" textLength="230.54" lengthAdjust="spacingAndGlyphs">Electrical</text>
<text x="566.43" y="630" font-size="54" font-weight="bold" fill="#000" stroke="#000" stroke-width="2.4" stroke-linejoin="round" textLength="95.15" lengthAdjust="spacingAndGlyphs">Box</text>
<text x="533.31" y="1371.7" font-size="55" font-weight="bold" fill="#000" stroke="#000" stroke-width="2.4" stroke-linejoin="round" textLength="231.67" lengthAdjust="spacingAndGlyphs">Electrical</text>
<text x="601.03" y="1420.3" font-size="54" font-weight="bold" fill="#000" stroke="#000" stroke-width="2.4" stroke-linejoin="round" textLength="95.45" lengthAdjust="spacingAndGlyphs">Box</text>
<path d="M877.0 135.9 Q877.0 131.0 883.0 131.0 L901.0 131.0 Q907.0 131.0 907.0 135.9 L913.0 197.5 L871.0 197.5 Z" fill="url(#conn)" stroke="#3340a8" stroke-width="0.8"/>
<path d="M883.9 136.9 L880.3 193.6" stroke="#3545b5" stroke-width="2.2" opacity="0.8"/>
<path d="M889.3 136.9 L888.1 193.6" stroke="#3545b5" stroke-width="2.2" opacity="0.8"/>
<path d="M894.7 136.9 L895.9 193.6" stroke="#3545b5" stroke-width="2.2" opacity="0.8"/>
<path d="M900.1 136.9 L903.7 193.6" stroke="#3545b5" stroke-width="2.2" opacity="0.8"/>
<path d="M886.6 138.8 L884.2 191.7" stroke="#6d7fe6" stroke-width="1.6" opacity="0.7"/>
<path d="M892.0 138.8 L892.0 191.7" stroke="#6d7fe6" stroke-width="1.6" opacity="0.7"/>
<path d="M897.4 138.8 L899.8 191.7" stroke="#6d7fe6" stroke-width="1.6" opacity="0.7"/>
<path d="M871.0 195.6 L913.0 195.6 L917.0 219.1 Q917.0 223.0 913.0 223.0 L871.0 223.0 Q867.0 223.0 867.0 219.1 Z" fill="url(#conn)" stroke="#3340a8" stroke-width="0.8"/>
<ellipse cx="892" cy="133.0" rx="8" ry="2" fill="#7d8cf0" opacity="0.8"/>
<path d="M878.5 443.1 Q878.5 438.0 884.5 438.0 L902.5 438.0 Q908.5 438.0 908.5 443.1 L914.5 506.7 L872.5 506.7 Z" fill="url(#conn)" stroke="#3340a8" stroke-width="0.8"/>
<path d="M885.4 444.1 L881.8 502.7" stroke="#3545b5" stroke-width="2.2" opacity="0.8"/>
<path d="M890.8 444.1 L889.6 502.7" stroke="#3545b5" stroke-width="2.2" opacity="0.8"/>
<path d="M896.2 444.1 L897.4 502.7" stroke="#3545b5" stroke-width="2.2" opacity="0.8"/>
<path d="M901.6 444.1 L905.2 502.7" stroke="#3545b5" stroke-width="2.2" opacity="0.8"/>
<path d="M888.1 446.1 L885.7 500.7" stroke="#6d7fe6" stroke-width="1.6" opacity="0.7"/>
<path d="M893.5 446.1 L893.5 500.7" stroke="#6d7fe6" stroke-width="1.6" opacity="0.7"/>
<path d="M898.9 446.1 L901.3 500.7" stroke="#6d7fe6" stroke-width="1.6" opacity="0.7"/>
<path d="M872.5 504.7 L914.5 504.7 L918.5 529.0 Q918.5 533.0 914.5 533.0 L872.5 533.0 Q868.5 533.0 868.5 529.0 Z" fill="url(#conn)" stroke="#3340a8" stroke-width="0.8"/>
<ellipse cx="893.5" cy="440.0" rx="8" ry="2" fill="#7d8cf0" opacity="0.8"/>
<path d="M898 530 C900 570 905 620 915 650 C925 680 940 694 962 694 C985 694 996 680 997 660 L998 639" fill="none" stroke="#c43d59" stroke-width="12" stroke-linecap="round" stroke-linejoin="round"/>
<path d="M898 530 C900 570 905 620 915 650 C925 680 940 694 962 694 C985 694 996 680 997 660 L998 639" fill="none" stroke="#eb5a78" stroke-width="9.4" stroke-linecap="round" stroke-linejoin="round"/>
<path d="M1088 638 C1087 660 1090 685 1105 696 C1120 704 1160 700 1205 688 C1260 670 1300 640 1327 597 C1350 560 1366 510 1369 460 C1372 420 1366 395 1350 383 C1335 372 1315 369 1299 370" fill="none" stroke="#c43d59" stroke-width="12" stroke-linecap="round" stroke-linejoin="round"/>
<path d="M1088 638 C1087 660 1090 685 1105 696 C1120 704 1160 700 1205 688 C1260 670 1300 640 1327 597 C1350 560 1366 510 1369 460 C1372 420 1366 395 1350 383 C1335 372 1315 369 1299 370" fill="none" stroke="#eb5a78" stroke-width="9.4" stroke-linecap="round" stroke-linejoin="round"/>
<path d="M911.0 880.9 Q911.0 876.0 917.0 876.0 L935.0 876.0 Q941.0 876.0 941.0 880.9 L947.0 943.3 L905.0 943.3 Z" fill="url(#conn)" stroke="#3340a8" stroke-width="0.8"/>
<path d="M917.9 881.9 L914.3 939.3" stroke="#3545b5" stroke-width="2.2" opacity="0.8"/>
<path d="M923.3 881.9 L922.1 939.3" stroke="#3545b5" stroke-width="2.2" opacity="0.8"/>
<path d="M928.7 881.9 L929.9 939.3" stroke="#3545b5" stroke-width="2.2" opacity="0.8"/>
<path d="M934.1 881.9 L937.7 939.3" stroke="#3545b5" stroke-width="2.2" opacity="0.8"/>
<path d="M920.6 883.9 L918.2 937.3" stroke="#6d7fe6" stroke-width="1.6" opacity="0.7"/>
<path d="M926.0 883.9 L926.0 937.3" stroke="#6d7fe6" stroke-width="1.6" opacity="0.7"/>
<path d="M931.4 883.9 L933.8 937.3" stroke="#6d7fe6" stroke-width="1.6" opacity="0.7"/>
<path d="M905.0 941.3 L947.0 941.3 L951.0 965.0 Q951.0 969.0 947.0 969.0 L905.0 969.0 Q901.0 969.0 901.0 965.0 Z" fill="url(#conn)" stroke="#3340a8" stroke-width="0.8"/>
<ellipse cx="926" cy="878.0" rx="8" ry="2" fill="#7d8cf0" opacity="0.8"/>
<path d="M908.5 1182.9 Q908.5 1178.0 914.5 1178.0 L932.5 1178.0 Q938.5 1178.0 938.5 1182.9 L944.5 1244.5 L902.5 1244.5 Z" fill="url(#conn)" stroke="#3340a8" stroke-width="0.8"/>
<path d="M915.4 1183.9 L911.8 1240.6" stroke="#3545b5" stroke-width="2.2" opacity="0.8"/>
<path d="M920.8 1183.9 L919.6 1240.6" stroke="#3545b5" stroke-width="2.2" opacity="0.8"/>
<path d="M926.2 1183.9 L927.4 1240.6" stroke="#3545b5" stroke-width="2.2" opacity="0.8"/>
<path d="M931.6 1183.9 L935.2 1240.6" stroke="#3545b5" stroke-width="2.2" opacity="0.8"/>
<path d="M918.1 1185.8 L915.7 1238.7" stroke="#6d7fe6" stroke-width="1.6" opacity="0.7"/>
<path d="M923.5 1185.8 L923.5 1238.7" stroke="#6d7fe6" stroke-width="1.6" opacity="0.7"/>
<path d="M928.9 1185.8 L931.3 1238.7" stroke="#6d7fe6" stroke-width="1.6" opacity="0.7"/>
<path d="M902.5 1242.6 L944.5 1242.6 L948.5 1266.1 Q948.5 1270.0 944.5 1270.0 L902.5 1270.0 Q898.5 1270.0 898.5 1266.1 Z" fill="url(#conn)" stroke="#3340a8" stroke-width="0.8"/>
<ellipse cx="923.5" cy="1180.0" rx="8" ry="2" fill="#7d8cf0" opacity="0.8"/>
<path d="M932 1270 C932 1320 935 1380 950 1415 C962 1440 980 1447 1000 1445 C1022 1441 1031 1422 1032 1402 L1032.5 1381" fill="none" stroke="#c43d59" stroke-width="12" stroke-linecap="round" stroke-linejoin="round"/>
<path d="M932 1270 C932 1320 935 1380 950 1415 C962 1440 980 1447 1000 1445 C1022 1441 1031 1422 1032 1402 L1032.5 1381" fill="none" stroke="#eb5a78" stroke-width="9.4" stroke-linecap="round" stroke-linejoin="round"/>
<path d="M1123 1381 C1122 1405 1128 1425 1150 1433 C1180 1442 1230 1428 1270 1410 C1320 1385 1370 1340 1393 1280 C1410 1230 1410 1175 1394 1146 C1380 1122 1360 1111 1340 1109 L1318 1108" fill="none" stroke="#c43d59" stroke-width="12" stroke-linecap="round" stroke-linejoin="round"/>
<path d="M1123 1381 C1122 1405 1128 1425 1150 1433 C1180 1442 1230 1428 1270 1410 C1320 1385 1370 1340 1393 1280 C1410 1230 1410 1175 1394 1146 C1380 1122 1360 1111 1340 1109 L1318 1108" fill="none" stroke="#eb5a78" stroke-width="9.4" stroke-linecap="round" stroke-linejoin="round"/>
<ellipse cx="1282" cy="317.7" rx="60" ry="66" fill="url(#glow)"/>
<path d="M1265 356.2 C1262 339.7 1248.5 327.7 1248 305.7 C1247.5 287.7 1262 275.7 1282 275.7 C1302 275.7 1316.5 287.7 1316 305.7 C1315.5 327.7 1302 339.7 1299 356.2 Z" fill="url(#glass)" stroke="#8c8670" stroke-width="1.1"/>
<path d="M1275 320.7 h14 M1276 320.7 v12 M1288 320.7 v12 M1280 333.7 h4" stroke="#d6cca6" stroke-width="0.9" fill="none" opacity="0.8"/>
<path d="M1266 356.2 L1299 356.2 L1299 377.2 Q1298 383.2 1292 385.2 L1272 385.2 Q1267 383.2 1266 377.2 Z" fill="url(#base)" stroke="#14303c" stroke-width="0.8"/>
<path d="M1266.5 362.2 Q1282 365.2 1298.5 362.2" stroke="#7fb3c6" stroke-width="2" fill="none" opacity="0.75"/>
<path d="M1266.5 365.7 Q1282 368.7 1298.5 365.7" stroke="#10222c" stroke-width="1.2" fill="none" opacity="0.7"/>
<path d="M1266.5 370.2 Q1282 373.2 1298.5 370.2" stroke="#7fb3c6" stroke-width="2" fill="none" opacity="0.75"/>
<path d="M1266.5 373.7 Q1282 376.7 1298.5 373.7" stroke="#10222c" stroke-width="1.2" fill="none" opacity="0.7"/>
<path d="M1266.5 378.2 Q1282 381.2 1298.5 378.2" stroke="#7fb3c6" stroke-width="2" fill="none" opacity="0.75"/>
<path d="M1266.5 381.7 Q1282 384.7 1298.5 381.7" stroke="#10222c" stroke-width="1.2" fill="none" opacity="0.7"/>
<rect x="1264.5" y="354.7" width="36" height="3" rx="1" fill="#c9d6da"/>
<path d="M1275 385.2 L1289 385.2 L1286 389.2 L1278 389.2 Z" fill="#1a1a1a"/>
<ellipse cx="1302.8" cy="1053.5" rx="60" ry="66" fill="url(#glow)"/>
<path d="M1285.8 1092.0 C1282.8 1075.5 1269.3 1063.5 1268.8 1041.5 C1268.3 1023.5 1282.8 1011.5 1302.8 1011.5 C1322.8 1011.5 1337.3 1023.5 1336.8 1041.5 C1336.3 1063.5 1322.8 1075.5 1319.8 1092.0 Z" fill="url(#glass)" stroke="#8c8670" stroke-width="1.1"/>
<path d="M1295.8 1056.5 h14 M1296.8 1056.5 v12 M1308.8 1056.5 v12 M1300.8 1069.5 h4" stroke="#d6cca6" stroke-width="0.9" fill="none" opacity="0.8"/>
<path d="M1286.8 1092.0 L1319.8 1092.0 L1319.8 1113.0 Q1318.8 1119.0 1312.8 1121.0 L1292.8 1121.0 Q1287.8 1119.0 1286.8 1113.0 Z" fill="url(#base)" stroke="#14303c" stroke-width="0.8"/>
<path d="M1287.3 1098.0 Q1302.8 1101.0 1319.3 1098.0" stroke="#7fb3c6" stroke-width="2" fill="none" opacity="0.75"/>
<path d="M1287.3 1101.5 Q1302.8 1104.5 1319.3 1101.5" stroke="#10222c" stroke-width="1.2" fill="none" opacity="0.7"/>
<path d="M1287.3 1106.0 Q1302.8 1109.0 1319.3 1106.0" stroke="#7fb3c6" stroke-width="2" fill="none" opacity="0.75"/>
<path d="M1287.3 1109.5 Q1302.8 1112.5 1319.3 1109.5" stroke="#10222c" stroke-width="1.2" fill="none" opacity="0.7"/>
<path d="M1287.3 1114.0 Q1302.8 1117.0 1319.3 1114.0" stroke="#7fb3c6" stroke-width="2" fill="none" opacity="0.75"/>
<path d="M1287.3 1117.5 Q1302.8 1120.5 1319.3 1117.5" stroke="#10222c" stroke-width="1.2" fill="none" opacity="0.7"/>
<rect x="1285.3" y="1090.5" width="36" height="3" rx="1" fill="#c9d6da"/>
<path d="M1295.8 1121.0 L1309.8 1121.0 L1306.8 1125.0 L1298.8 1125.0 Z" fill="#1a1a1a"/>
<line x1="8" y1="750.5" x2="1500" y2="750.5" stroke="#000" stroke-width="4.5" stroke-dasharray="18.7 9.4"/>
<rect x="189.5" y="719" width="674.5" height="176" rx="13" fill="#fff" stroke="#000" stroke-width="4.5"/>
<text x="205.21" y="762.8" font-size="14.2" fill="#000" textLength="112.08" lengthAdjust="spacingAndGlyphs">Screw terminal</text>
<text x="206.40" y="779.6" font-size="14.2" fill="#000" textLength="33.30" lengthAdjust="spacingAndGlyphs">Wire</text>
<path d="M256 772 V784 M374 772 V784" stroke="#000" stroke-width="1.6"/>
<path d="M266 778 H295 M266 778 l5 -3 M266 778 l5 3 M338 778 H364 M364 778 l-5 -3 M364 778 l-5 3" stroke="#000" stroke-width="1.4" fill="none"/>
<text x="298" y="783" font-size="14.2" fill="#000" text-anchor="start" textLength="40" lengthAdjust="spacingAndGlyphs" >1 inch</text>
<rect x="204.5" y="787.5" width="53.5" height="12.5" rx="1.5" fill="#fff" stroke="#000" stroke-width="1.4"/>
<rect x="258" y="790.5" width="117.5" height="6" fill="#111"/>
<text x="205.21" y="815.6" font-size="14.2" fill="#000" textLength="118.52" lengthAdjust="spacingAndGlyphs">Back wire holes</text>
<text x="206.40" y="830.5" font-size="14.2" fill="#000" textLength="33.30" lengthAdjust="spacingAndGlyphs">Wire</text>
<path d="M256 819 V831 M328 819 V831" stroke="#000" stroke-width="1.6"/>
<path d="M259 825 H264 M259 825 l3 -2 M259 825 l3 2 M319 825 H325 M325 825 l-3 -2 M325 825 l-3 2" stroke="#000" stroke-width="1.2" fill="none"/>
<text x="264" y="830" font-size="12" fill="#000" text-anchor="start" textLength="55" lengthAdjust="spacingAndGlyphs" >.6 inches</text>
<rect x="204.5" y="834" width="53.5" height="12.5" rx="1.5" fill="#fff" stroke="#000" stroke-width="1.4"/>
<rect x="258" y="837.5" width="72" height="6" fill="#111"/>
<circle cx="422.5" cy="782" r="22" fill="#fff" stroke="#000" stroke-width="1.6"/>
<defs><pattern id="hatch" width="3.5" height="3.5" patternUnits="userSpaceOnUse" patternTransform="rotate(45)"><rect width="3.5" height="3.5" fill="#fff"/><rect width="1.6" height="3.5" fill="#000"/></pattern></defs>
<circle cx="424" cy="781" r="10.5" fill="url(#hatch)" stroke="#000" stroke-width="1.2"/>
<path d="M409 813 L409 778 Q410 764 424 764 Q438 764 440 778 Q440 790 430 793" fill="none" stroke="#000" stroke-width="2.8"/>
<path d="M452 762 Q462 776 458 790 Q454 800 446 806" fill="none" stroke="#000" stroke-width="1.3"/>
<path d="M446 806 l2 -8 M446 806 l7 -3" stroke="#000" stroke-width="1.3" fill="none"/>
<rect x="403.5" y="813.5" width="12.5" height="27" rx="1" fill="#fff" stroke="#000" stroke-width="1.3"/>
<text x="424.66" y="824.7" font-size="14.2" font-weight="bold" fill="#000" textLength="84.26" lengthAdjust="spacingAndGlyphs">SIDE WIRE</text>
<text x="424.78" y="840.8" font-size="14.2" fill="#000" textLength="82.61" lengthAdjust="spacingAndGlyphs">Clockwise,</text>
<text x="424.81" y="856.9" font-size="14.2" fill="#000" textLength="105.50" lengthAdjust="spacingAndGlyphs">2/3 of the way</text>
<text x="424.81" y="872.7" font-size="14.2" fill="#000" textLength="100.99" lengthAdjust="spacingAndGlyphs">around screw</text>
<circle cx="621.8" cy="803.5" r="75.3" fill="#fff" stroke="#000" stroke-width="3.5"/>
<g transform="translate(540,722) scale(0.11202)" fill="none" stroke="#000" stroke-width="19" stroke-linejoin="round" stroke-linecap="round"><path d="M385 355 Q470 290 500 300 Q515 310 505 350 L495 420 Q480 460 440 465 L395 462 Q372 440 378 400 Z"/><ellipse cx="445" cy="390" rx="32" ry="25" transform="rotate(-35 445 390)"/><path d="M505 330 Q540 322 560 312 Q575 282 610 272 Q650 264 662 292 Q690 302 735 292"/><circle cx="618" cy="294" r="19"/><ellipse cx="612" cy="396" rx="44" ry="27" transform="rotate(-25 612 396)"/><path d="M740 205 Q800 165 852 148 Q876 152 868 192 L860 255 Q840 300 790 322 L762 328 Q738 305 740 262 Z"/><ellipse cx="795" cy="242" rx="40" ry="30" transform="rotate(-40 795 242)"/><path d="M482 462 V548 M757 322 V442 M760 410 Q805 400 835 428"/><path d="M482 548 Q402 562 387 612 V932 M442 602 Q426 618 430 655 V905 M387 932 Q402 952 432 942"/><path d="M472 592 L792 458 L838 432 L1042 464 L1292 574 L882 762 Z"/><path d="M812 442 L992 478 L922 512 L832 482"/><path d="M432 627 L882 767 M444 658 L872 792 M882 762 L1292 574 M900 795 L1302 604 M1292 574 V700 M1302 604 V690 M882 767 V960 M900 795 V950"/><path d="M452 668 L640 725 L640 880 L452 822 Z"/><circle cx="722" cy="858" r="62"/><path d="M690 835 L740 890 M705 825 L755 878 M680 850 L725 900"/><path d="M585 535 Q620 505 660 525 L665 640 Q630 660 595 640 Z"/><path d="M600 690 L650 720 M605 710 L650 740"/><path d="M170 1052 Q205 1002 265 992 L642 862 M212 1112 L662 932 M180 1012 Q240 962 322 977 Q352 1002 342 1062 L402 1142"/><ellipse cx="398" cy="962" rx="32" ry="28"/><path d="M992 872 L1382 952 M1002 892 L1372 977"/><path d="M1055 880 L1090 920 M1080 875 L1060 925"/><ellipse cx="1305" cy="690" rx="33" ry="48"/><ellipse cx="1300" cy="800" rx="36" ry="48"/><path d="M1330 820 L1370 850"/><path d="M1060 780 Q1075 800 1065 830 M1200 760 Q1215 790 1205 840"/><path d="M602 1002 L852 1102 M452 1002 L842 1132 M802 1132 V1272 M842 1102 V1272 M600 1010 Q640 1050 620 1090"/></g>
<text x="657" y="837" font-size="6" fill="#000" transform="rotate(-12 657 837)">LINE</text>
<text x="684.79" y="747.3" font-size="21" font-weight="bold" fill="#000" stroke="#000" stroke-width="0.6" stroke-linejoin="round" textLength="112.83" lengthAdjust="spacingAndGlyphs">Back Wire</text>
<text x="700.43" y="770.2" font-size="17.5" fill="#000" textLength="123.21" lengthAdjust="spacingAndGlyphs">1.Insert wire to</text>
<text x="704.85" y="791.2" font-size="17.5" fill="#000" textLength="132.79" lengthAdjust="spacingAndGlyphs">bottom of hole.</text>
<text x="706.72" y="812" font-size="17.5" fill="#000" textLength="150.65" lengthAdjust="spacingAndGlyphs">2.Securely tighten</text>
<text x="706.23" y="832.9" font-size="17.5" fill="#000" textLength="121.45" lengthAdjust="spacingAndGlyphs">screw beneath</text>
<text x="700.30" y="853.9" font-size="17.5" fill="#000" textLength="152.96" lengthAdjust="spacingAndGlyphs">wire hole to reatin</text>
<text x="682.41" y="875" font-size="17.5" fill="#000" textLength="113.57" lengthAdjust="spacingAndGlyphs">inserted wire.</text>
<rect x="185.5" y="1173.5" width="190" height="308" rx="3" fill="#f7f7f7" stroke="#e6e6e6" stroke-width="1"/>
<rect x="199.5" y="1187" width="162" height="281" rx="2" fill="url(#plateface)"/>
<path d="M185.5 1173.5 L199.5 1187 M375.5 1173.5 L361.5 1187 M185.5 1481.5 L199.5 1468 M375.5 1481.5 L361.5 1468" stroke="#e2e2e2" stroke-width="1"/>
<rect x="186.5" y="1175" width="6" height="305" fill="#efefef"/>
<rect x="234" y="1238.5" width="91" height="183" rx="2" fill="#f3f3f3" stroke="#fbfbfb" stroke-width="1.5"/>
<circle cx="279.6" cy="1197.8" r="9.3" fill="#f3f3f3" stroke="#b5b5b5" stroke-width="1.2"/><path d="M271 1198.3 H288" stroke="#8a8a8a" stroke-width="2"/>
<circle cx="279.6" cy="1460.2" r="9.3" fill="#f3f3f3" stroke="#b5b5b5" stroke-width="1.2"/><path d="M271 1460.7 H288" stroke="#8a8a8a" stroke-width="2"/>
<text x="240" y="1261" font-size="15.5" fill="#000" text-anchor="start" textLength="22" lengthAdjust="spacingAndGlyphs" >WR</text>
<path d="M272.5 1242 H288 V1250 Q288 1257 280 1257 Q272.5 1257 272.5 1250 Z" fill="#111"/>
<rect x="258.5" y="1271" width="6" height="21.5" fill="#444" stroke="#222" stroke-width="0.8"/>
<rect x="294.5" y="1271" width="6" height="21.5" fill="#444" stroke="#222" stroke-width="0.8"/><rect x="300" y="1279.5" width="16" height="5.5" fill="#444"/>
<text x="268" y="1290" font-size="15" fill="#dadada">TR</text>
<rect x="252" y="1301" width="55" height="55" rx="3" fill="#fafafa"/>
<rect x="261" y="1305.5" width="37" height="18" rx="3" fill="#f0f0f0" stroke="#555" stroke-width="1.3"/>
<rect x="261" y="1333" width="37" height="18" rx="3" fill="#f0f0f0" stroke="#555" stroke-width="1.3"/>
<text x="279.5" y="1314" font-size="7.5" fill="#999" text-anchor="middle">TEST</text><text x="279.5" y="1321" font-size="7.5" fill="#999" text-anchor="middle" transform="rotate(180 279.5 1318.5)">TEST</text>
<text x="279.5" y="1341.5" font-size="7.5" fill="#999" text-anchor="middle">RESET</text><text x="279.5" y="1348.5" font-size="7.5" fill="#999" text-anchor="middle" transform="rotate(180 279.5 1346)">RESET</text>
<rect x="244.2" y="1319" width="7.4" height="15" fill="#5fd43a"/><rect x="245" y="1325.5" width="6" height="2" fill="#2a8a20"/>
<rect x="307.6" y="1321.5" width="5.2" height="14" fill="#111"/>
<rect x="241" y="1371.5" width="76" height="40" rx="4" fill="#f4f4f4" stroke="#111" stroke-width="1.5"/>
</svg></body></html>
